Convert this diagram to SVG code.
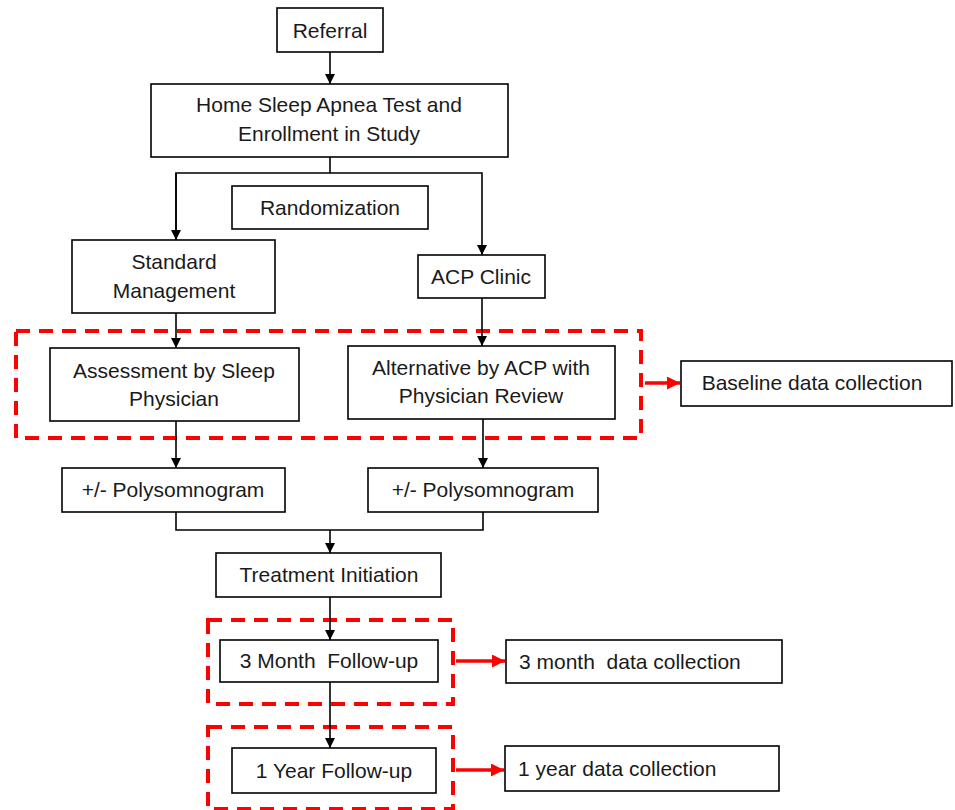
<svg xmlns="http://www.w3.org/2000/svg" width="955" height="810" viewBox="0 0 955 810">
<defs>
<style>
.box{fill:#fff;stroke:#000;stroke-width:1.6}
.t{font-family:"Liberation Sans",Arial,sans-serif;font-size:21px;fill:#1a1a1a;text-anchor:middle;white-space:pre}
.ts{text-anchor:start}
.ln{fill:none;stroke:#000;stroke-width:1.6}
.rl{fill:none;stroke:#f00;stroke-width:3.5}
.dash{fill:none;stroke:#f00;stroke-width:4;stroke-dasharray:14 9}
</style>
<marker id="ab" markerWidth="10" markerHeight="10" refX="10" refY="5" orient="auto" markerUnits="userSpaceOnUse">
<path d="M0,0 L10,5 L0,10 z" fill="#000"/>
</marker>
<marker id="ar" markerWidth="13" markerHeight="13" refX="13" refY="6.5" orient="auto" markerUnits="userSpaceOnUse">
<path d="M0,0 L13,6.5 L0,13 z" fill="#f00"/>
</marker>
</defs>
<rect width="955" height="810" fill="#fff"/>
<g id="regions">
<rect class="dash" x="16" y="331" width="625" height="107"/>
<rect class="dash" x="208" y="620" width="245" height="84"/>
<rect class="dash" x="208" y="727" width="245" height="82"/>
</g>
<g id="connectors">
<line class="ln" x1="330" y1="52" x2="330" y2="84" marker-end="url(#ab)"/>
<polyline class="ln" points="330,157 330,173"/>
<polyline class="ln" points="176,240 176,173 482,173 482,255" marker-end="url(#ab)"/>
<line class="ln" x1="176" y1="173" x2="176" y2="240" marker-end="url(#ab)"/>
<line class="ln" x1="176" y1="313" x2="176" y2="348" marker-end="url(#ab)"/>
<line class="ln" x1="482" y1="298" x2="482" y2="346" marker-end="url(#ab)"/>
<line class="ln" x1="176" y1="421" x2="176" y2="468" marker-end="url(#ab)"/>
<line class="ln" x1="483" y1="419" x2="483" y2="468" marker-end="url(#ab)"/>
<polyline class="ln" points="176,512 176,530 483,530 483,512"/>
<line class="ln" x1="330" y1="530" x2="330" y2="553" marker-end="url(#ab)"/>
<line class="ln" x1="330" y1="597" x2="330" y2="640" marker-end="url(#ab)"/>
<line class="ln" x1="330" y1="682" x2="330" y2="748" marker-end="url(#ab)"/>
<line class="rl" x1="645" y1="383" x2="680" y2="383" marker-end="url(#ar)"/>
<line class="rl" x1="456" y1="661" x2="505" y2="661" marker-end="url(#ar)"/>
<line class="rl" x1="456" y1="770" x2="504" y2="770" marker-end="url(#ar)"/>
</g>
<g id="referral"><rect class="box" x="277" y="8" width="106" height="44"/><text class="t" x="330" y="38">Referral</text></g>
<g id="home"><rect class="box" x="151" y="84" width="357" height="73"/><text class="t" x="329" y="112">Home Sleep Apnea Test and</text><text class="t" x="329" y="141">Enrollment in Study</text></g>
<g id="randomization"><rect class="box" x="232" y="186" width="196" height="43"/><text class="t" x="330" y="215">Randomization</text></g>
<g id="standard"><rect class="box" x="72" y="240" width="203" height="73"/><text class="t" x="174" y="269">Standard</text><text class="t" x="174" y="298">Management</text></g>
<g id="acp"><rect class="box" x="418" y="255" width="127" height="43"/><text class="t" x="481" y="284">ACP Clinic</text></g>
<g id="assessment"><rect class="box" x="50" y="348" width="249" height="73"/><text class="t" x="174" y="378">Assessment by Sleep</text><text class="t" x="174" y="406">Physician</text></g>
<g id="alternative"><rect class="box" x="348" y="346" width="267" height="73"/><text class="t" x="481" y="375">Alternative by ACP with</text><text class="t" x="481" y="403">Physician Review</text></g>
<g id="baseline"><rect class="box" x="681" y="361" width="271" height="45"/><text class="t" x="812" y="390">Baseline data collection</text></g>
<g id="psg1"><rect class="box" x="62" y="468" width="223" height="44"/><text class="t" x="173" y="497">+/- Polysomnogram</text></g>
<g id="psg2"><rect class="box" x="368" y="468" width="230" height="44"/><text class="t" x="483" y="497">+/- Polysomnogram</text></g>
<g id="treatment"><rect class="box" x="216" y="553" width="225" height="44"/><text class="t" x="329" y="582">Treatment Initiation</text></g>
<g id="m3"><rect class="box" x="220" y="640" width="218" height="42"/><text class="t" x="329" y="668">3 Month  Follow-up</text></g>
<g id="m3data"><rect class="box" x="506" y="640" width="276" height="43"/><text class="t ts" x="519" y="669">3 month  data collection</text></g>
<g id="y1"><rect class="box" x="232" y="748" width="204" height="45"/><text class="t" x="334" y="778">1 Year Follow-up</text></g>
<g id="y1data"><rect class="box" x="505" y="746" width="274" height="45"/><text class="t ts" x="518" y="776">1 year data collection</text></g>
</svg>
